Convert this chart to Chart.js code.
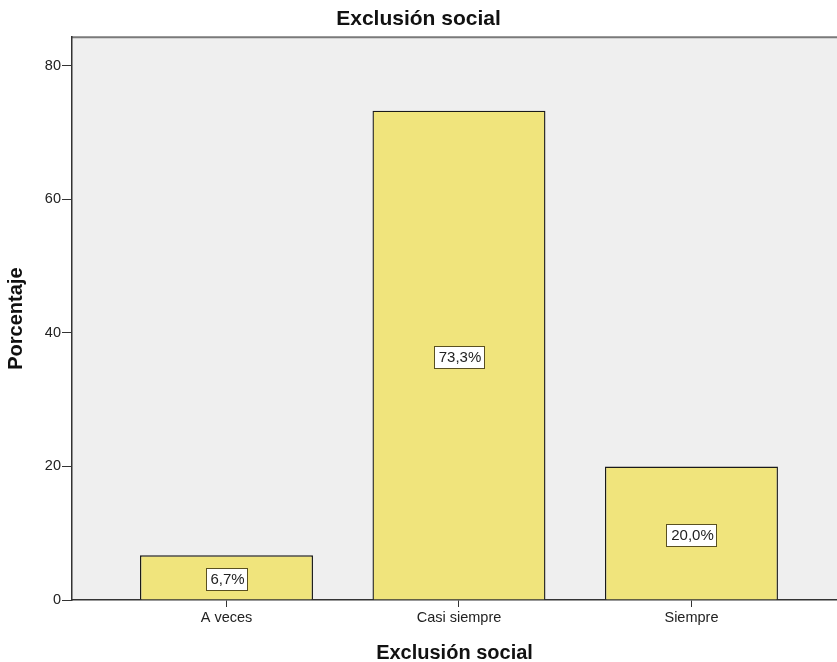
<!DOCTYPE html>
<html>
<head>
<meta charset="utf-8">
<script src="https://cdn.jsdelivr.net/npm/chart.js@4"></script>
<style>
  body { margin: 0; background: #fff; }
  #wrap { width: 837px; height: 662px; }
</style>
</head>
<body>
<div id="wrap"><canvas id="grafico"></canvas></div>
<script>
const categorias = ['A veces', 'Casi siempre', 'Siempre'];
const porcentajes = [6.7, 73.3, 20.0];
const etiquetas = ['6,7%', '73,3%', '20,0%'];
const ticksY = [0, 20, 40, 60, 80];

const fuente = '"Liberation Sans", Arial, sans-serif';

const fondo = {
    id: 'fondo',
    beforeDraw(chart) {
        const { ctx, chartArea: a } = chart;
        ctx.save();
        ctx.fillStyle = '#efefef';
        ctx.fillRect(a.left, a.top, a.right - a.left, a.bottom - a.top);
        ctx.strokeStyle = '#7a7a7a';
        ctx.lineWidth = 2;
        ctx.beginPath();
        ctx.moveTo(a.left, a.top);
        ctx.lineTo(a.right, a.top);
        ctx.stroke();
        ctx.restore();
    }
};

const cajas = {
    id: 'cajas',
    afterDatasetsDraw(chart) {
        const { ctx } = chart;
        const meta = chart.getDatasetMeta(0);
        ctx.save();
        ctx.font = '15px ' + fuente;
        ctx.textAlign = 'center';
        ctx.textBaseline = 'middle';
        meta.data.forEach((bar, i) => {
            const y = Math.round((bar.y + bar.base) / 2 + 2);
            const w = Math.round(ctx.measureText(etiquetas[i]).width + 7);
            const h = 22;
            const x0 = Math.round(bar.x - w / 2);
            ctx.fillStyle = '#ffffff';
            ctx.fillRect(x0, y - h / 2, w, h);
            ctx.strokeStyle = '#5a5020';
            ctx.lineWidth = 1;
            ctx.strokeRect(x0 + 0.5, y - h / 2 + 0.5, w, h);
            ctx.fillStyle = '#222';
            ctx.fillText(etiquetas[i], bar.x + 1, y + 1);
        });
        ctx.restore();
    }
};

const ctx = document.getElementById('grafico').getContext('2d');
const myChart = new Chart(ctx, {
    type: 'bar',
    data: {
        datasets: [{
            label: 'Porcentaje',
            data: porcentajes.map((v, i) => ({ x: i, y: v })),
            backgroundColor: '#f0e47c',
            borderColor: '#1a1a1a',
            borderWidth: 1.4,
            categoryPercentage: 1,
            barPercentage: 0.744
        }]
    },
    options: {
        responsive: true,
        maintainAspectRatio: false,
        animation: false,
        layout: { padding: 0 },
        plugins: {
            legend: { display: false },
            tooltip: { enabled: false },
            title: {
                display: true,
                text: 'Exclusión social',
                color: '#111',
                font: { family: fuente, size: 21, weight: 'bold' },
                padding: { top: 7, bottom: 5 }
            }
        },
        scales: {
            x: {
                type: 'linear',
                offset: false,
                min: -0.6645,
                max: 2.626,
                afterBuildTicks: s => { s.ticks = categorias.map((c, i) => ({ value: i })); },
                afterFit: s => { s.height = 62; },
                ticks: {
                    callback: v => categorias[v],
                    color: '#222',
                    font: { family: fuente, size: 14.5 },
                    padding: 2
                },
                grid: { offset: false, drawOnChartArea: false, drawTicks: true, tickLength: 7, color: '#333' },
                border: { color: '#333', width: 1.5 },
                title: {
                    display: true,
                    text: 'Exclusión social',
                    color: '#111',
                    font: { family: fuente, size: 20, weight: 'bold' },
                    padding: { top: 14, bottom: -3 }
                }
            },
            y: {
                min: 0,
                max: 84.3,
                afterBuildTicks: s => { s.ticks = ticksY.map(v => ({ value: v })); },
                afterFit: s => { s.width = 72; },
                ticks: {
                    color: '#222',
                    font: { family: fuente, size: 14.5 },
                    padding: 1
                },
                grid: { drawOnChartArea: false, drawTicks: true, tickLength: 10, color: '#333' },
                border: { color: '#333', width: 1.5 },
                title: {
                    display: true,
                    text: 'Porcentaje',
                    color: '#111',
                    font: { family: fuente, size: 20, weight: 'bold' },
                    padding: { bottom: 4 }
                }
            }
        }
    },
    plugins: [fondo, cajas]
});
</script>
</body>
</html>
